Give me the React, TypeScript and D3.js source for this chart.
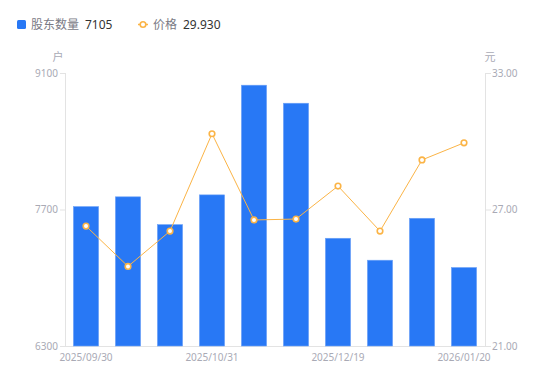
import React from "react";
import * as d3 from "d3";

const categories = [
  "2025/09/30", "2025/10/10", "2025/10/20", "2025/10/31", "2025/11/10",
  "2025/11/28", "2025/12/19", "2025/12/31", "2026/01/10", "2026/01/20",
];
const holders = [7730, 7830, 7545, 7850, 8975, 8790, 7405, 7180, 7610, 7105];
const prices = [26.27, 24.5, 26.05, 30.33, 26.54, 26.58, 28.03, 26.05, 29.18, 29.93];
const leftTicks = [6300, 7700, 9100];
const rightTicks = [21, 27, 33];
const shownLabels = ["2025/09/30", "2025/10/31", "2025/12/19", "2026/01/20"];

const W = 550, H = 381;
const M = { left: 65, right: 485, top: 73, bottom: 346 };
const FONT = "'Noto Sans', 'Noto Sans CJK SC', sans-serif";
const BLUE = "#2878F5";
const ORANGE = "#FBB446";
const AXIS = "#E3E3E3";
const TICKTXT = "#A9AAB5";

export default function App() {
  const x = d3.scaleBand().domain(categories).range([M.left, M.right]).paddingInner(0.4).paddingOuter(0.2);
  const xc = (c: string) => (x(c) as number) + x.bandwidth() / 2;
  const yL = d3.scaleLinear().domain([6300, 9100]).range([M.bottom, M.top]);
  const yR = d3.scaleLinear().domain([21, 33]).range([M.bottom, M.top]);
  const line = d3.line<number>().x((_, i) => xc(categories[i])).y((d) => yR(d));

  return (
    <svg width={W} height={H} style={{ position: "absolute", left: 0, top: 0 }} fontFamily={FONT}>
      {/* legend */}
      <rect x={17} y={20} width={9} height={9} rx={1.5} fill={BLUE} />
      <text x={31} y={29} fontSize={12} fill="#7A7A85">股东数量</text>
      <text x={85} y={29} fontSize={12} fill="#333">{holders[holders.length - 1]}</text>
      <line x1={138} x2={148} y1={24.5} y2={24.5} stroke={ORANGE} strokeWidth={1.5} />
      <circle cx={143} cy={24.5} r={2.8} fill="#fff" stroke={ORANGE} strokeWidth={1.6} />
      <text x={153} y={29} fontSize={12} fill="#7A7A85">价格</text>
      <text x={183} y={29} fontSize={12} fill="#333">{prices[prices.length - 1].toFixed(3)}</text>

      {/* units */}
      <text x={58} y={61} fontSize={11} fill={TICKTXT} textAnchor="middle">户</text>
      <text x={490} y={61} fontSize={11} fill={TICKTXT} textAnchor="middle">元</text>

      {/* axes */}
      <line x1={M.left + 0.5} x2={M.left + 0.5} y1={M.top} y2={M.bottom} stroke={AXIS} />
      <line x1={M.right + 0.5} x2={M.right + 0.5} y1={M.top} y2={M.bottom} stroke={AXIS} />
      <line x1={M.left} x2={M.right + 1} y1={M.bottom + 0.5} y2={M.bottom + 0.5} stroke={AXIS} />
      {leftTicks.map((t) => (
        <g key={"l" + t}>
          <line x1={M.left - 5} x2={M.left} y1={yL(t) + 0.5} y2={yL(t) + 0.5} stroke={AXIS} />
          <text x={M.left - 7} y={yL(t) + 3.5} fontSize={10} fill={TICKTXT} textAnchor="end">{t}</text>
        </g>
      ))}
      {rightTicks.map((t) => (
        <g key={"r" + t}>
          <line x1={M.right + 1} x2={M.right + 6} y1={yR(t) + 0.5} y2={yR(t) + 0.5} stroke={AXIS} />
          <text x={M.right + 7} y={yR(t) + 3.5} fontSize={10} fill={TICKTXT} textAnchor="start">{t.toFixed(2)}</text>
        </g>
      ))}
      {categories.map((c) =>
        shownLabels.includes(c) ? (
          <text key={"x" + c} x={xc(c)} y={361} fontSize={10} fill={TICKTXT} textAnchor="middle">{c}</text>
        ) : null
      )}

      {/* bars */}
      {holders.map((v, i) => (
        <rect key={"b" + i} x={x(categories[i])} y={yL(v)} width={x.bandwidth()} height={M.bottom - yL(v)}
          fill={BLUE} stroke="#6FA3F7" strokeWidth={0.6} />
      ))}

      {/* line */}
      <path d={line(prices) || ""} fill="none" stroke={ORANGE} strokeWidth={1} />
      {prices.map((v, i) => (
        <circle key={"p" + i} cx={xc(categories[i])} cy={yR(v)} r={2.8} fill="#fff" stroke={ORANGE} strokeWidth={1.6} />
      ))}
    </svg>
  );
}
